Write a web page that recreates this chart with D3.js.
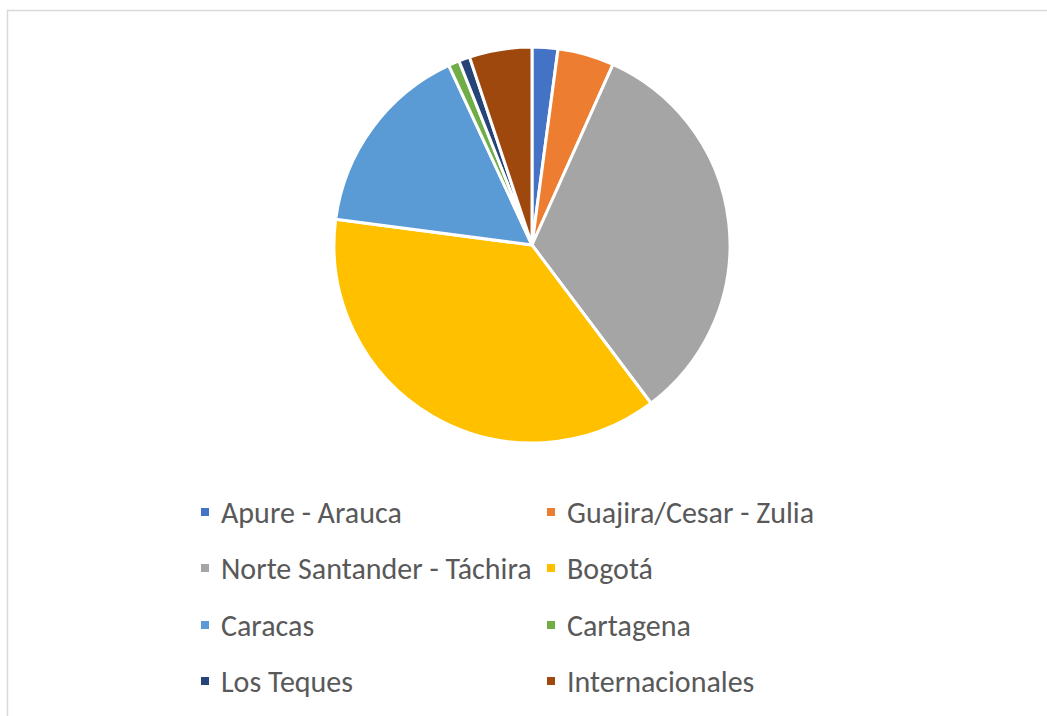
<!DOCTYPE html>
<html>
<head>
<meta charset="utf-8">
<script src="https://cdn.jsdelivr.net/npm/d3@7"></script>
<style>
  body { margin: 0; background: #fff; }
</style>
</head>
<body>
<div id="chart"></div>
<script>
// Slices, clockwise from 12 o'clock (percent shares).
const categories = ["Apure - Arauca", "Guajira/Cesar - Zulia", "Norte Santander - Táchira", "Bogotá",
                    "Caracas", "Cartagena", "Los Teques", "Internacionales"];
const shares = [2.1, 4.6, 33.0, 37.3, 16.0, 0.9, 0.9, 5.1];
const colors = ["#4472c4", "#ed7d31", "#a5a5a5", "#ffc000", "#5b9bd5", "#70ad47", "#264478", "#9e480e"];

const w = 1047, h = 716;
const cx = 532, cy = 245, radius = 198;

let svg = d3.select("#chart")
            .append("svg")
            .attr("width", w)
            .attr("height", h);

// Chart area border (cut off on the right and bottom).
svg.append("rect")
    .attr("x", 7.5)
    .attr("y", 10.5)
    .attr("width", w + 20)
    .attr("height", h + 20)
    .attr("fill", "#fff")
    .attr("stroke", "#d9d9d9")
    .attr("stroke-width", 1.5);

const data = categories.map((c, i) => ({ name: c, value: shares[i], color: colors[i] }));

const pie = d3.pie()
              .sort(null)
              .value(d => d.value);
const arc = d3.arc()
              .innerRadius(0)
              .outerRadius(radius);

svg.append("g")
    .attr("transform", `translate(${cx}, ${cy})`)
    .selectAll("path")
    .data(pie(data))
    .enter()
    .append("path")
    .attr("d", arc)
    .attr("fill", d => d.data.color)
    .attr("stroke", "#fff")
    .attr("stroke-width", 3)
    .attr("stroke-linejoin", "round");

// Legend: two columns, four rows.
const colX = [201, 547];
const rowY = [512, 568, 625, 681];

const legend = svg.append("g")
    .selectAll("g")
    .data(data)
    .enter()
    .append("g")
    .attr("transform", (d, i) => `translate(${colX[i % 2]}, ${rowY[Math.floor(i / 2)]})`);

legend.append("rect")
    .attr("x", 0)
    .attr("y", -4)
    .attr("width", 8)
    .attr("height", 8)
    .attr("fill", d => d.color);

legend.append("text")
    .attr("x", 20)
    .attr("y", 0)
    .attr("dy", "0.35em")
    .attr("font-family", "Carlito, Calibri, Lato, sans-serif")
    .attr("font-size", 30)
    .attr("fill", "#595959")
    .text(d => d.name);
</script>
</body>
</html>
